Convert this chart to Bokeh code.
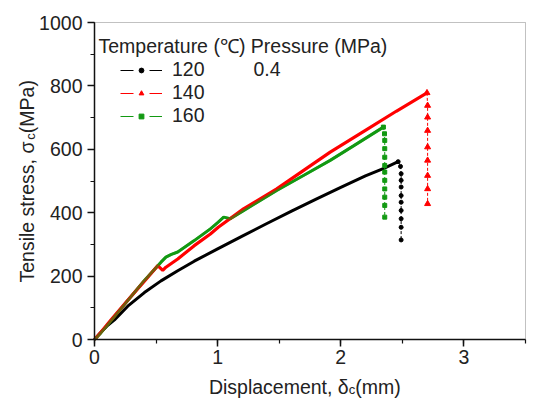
from math import pi
from bokeh.plotting import figure
from bokeh.models import Range1d, SingleIntervalTicker, Label, Legend, LegendItem, BoxAnnotation
from bokeh.embed import file_html
from bokeh.resources import INLINE

# ---------------- data ----------------
temps = ["120", "140", "160"]
pressure_text = "0.4"

disp_120 = [0, 0.05, 0.10, 0.162, 0.27, 0.405, 0.54, 0.676, 0.81, 1.0, 1.2, 1.4, 1.6, 1.8, 2.0, 2.2, 2.35, 2.466]
stress_120 = [0, 22, 42, 62, 105, 148, 185, 217, 247, 286, 326, 366, 405, 443, 480, 516, 540, 561]
drop_disp_120 = [2.466, 2.485, 2.49, 2.49, 2.49, 2.49, 2.49, 2.49, 2.49, 2.49, 2.49]
drop_stress_120 = [561, 546, 523, 502, 481, 454, 433, 407, 381, 354, 314]

disp_140 = [0, 0.05, 0.135, 0.27, 0.405, 0.514, 0.554, 0.58, 0.676, 0.81, 0.941, 1.005, 1.21, 1.48, 1.914, 2.2, 2.45, 2.70]
stress_140 = [0, 22, 62, 124, 184, 233, 218, 228, 254, 296, 333, 354, 412, 475, 591, 660, 720, 778]
drop_disp_140 = [2.70, 2.705, 2.705, 2.705, 2.705, 2.705, 2.705, 2.705, 2.705]
drop_stress_140 = [778, 738, 701, 659, 607, 565, 517, 475, 428]

disp_160 = [0, 0.05, 0.135, 0.27, 0.405, 0.54, 0.58, 0.62, 0.676, 0.81, 0.941, 1.005, 1.049, 1.103, 1.2, 1.48, 1.7, 1.914, 2.1, 2.346]
stress_160 = [0, 20, 60, 123, 186, 244, 260, 268, 276, 312, 349, 370, 386, 381, 404, 470, 518, 565, 610, 670]
drop_disp_160 = [2.346, 2.355, 2.357, 2.357, 2.357, 2.357, 2.357, 2.357, 2.357, 2.357, 2.357, 2.357]
drop_stress_160 = [670, 649, 628, 602, 575, 549, 528, 502, 475, 449, 423, 386]

x_limits = (0, 3.5)
y_limits = (0, 1000)
x_major = 1
y_major = 200

title_text = "Temperature (\u2103) Pressure (MPa)"
xlabel_parts = ("Displacement, \u03b4", "c", " (mm)")
ylabel_parts = ("Tensile stress, \u03c3", "c", " (MPa)")

# ---------------- styling / layout ----------------
FONT = "Liberation Sans"
FS = 19.5
SUB_FS = 13
TXT = "#222222"
BLACK, RED, GREEN = "#000000", "#ff0000", "#129912"
NAN = float("nan")

W, H = 537, 398
# the axes box occupies these canvas pixels
BOX_L, BOX_R, BOX_T, BOX_B = 94, 525, 22, 339
sx_per = (BOX_R - BOX_L) / (x_limits[1] - x_limits[0])
sy_per = (BOX_B - BOX_T) / (y_limits[1] - y_limits[0])
# the frame covers the whole canvas; ranges are widened so the data box lands on BOX_*
xr = Range1d(x_limits[0] - BOX_L / sx_per, x_limits[1] + (W - BOX_R) / sx_per)
yr = Range1d(y_limits[0] - (H - BOX_B) / sy_per, y_limits[1] + BOX_T / sy_per)

ARIAL = {' ': 278, '(': 333, ')': 333, ',': 278, '.': 278, 'D': 722, 'M': 833, 'P': 667,
         'T': 611, 'a': 556, 'c': 500, 'e': 556, 'i': 222, 'l': 222, 'm': 833, 'n': 556,
         'p': 556, 'r': 333, 's': 500, 't': 278, '\u03c3': 600, '\u03b4': 556}

def tw(s, size):
    return sum(ARIAL.get(ch, 556) for ch in s) / 1000.0 * size

p = figure(width=W, height=H, output_backend="svg", toolbar_location=None,
           x_range=xr, y_range=yr, min_border=0)
p.grid.visible = False
p.background_fill_color = "white"
p.border_fill_color = "white"
p.outline_line_color = None

p.xaxis.fixed_location = y_limits[0]
p.yaxis.fixed_location = x_limits[0]
p.xaxis.bounds = x_limits
p.yaxis.bounds = y_limits
p.xaxis.ticker = SingleIntervalTicker(interval=x_major, num_minor_ticks=2)
p.yaxis.ticker = SingleIntervalTicker(interval=y_major, num_minor_ticks=2)
for ax in (p.xaxis, p.yaxis):
    ax.axis_line_color = "#111111"
    ax.axis_line_width = 1.5
    ax.major_tick_line_color = "#111111"
    ax.minor_tick_line_color = "#111111"
    ax.major_tick_line_width = 1.5
    ax.minor_tick_line_width = 1.2
    ax.major_tick_out = 7
    ax.major_tick_in = 0
    ax.minor_tick_out = 4
    ax.minor_tick_in = 0
    ax.major_label_text_font = FONT
    ax.major_label_text_font_size = f"{FS}px"
    ax.major_label_text_color = TXT
p.xaxis.major_label_standoff = 3
p.yaxis.major_label_standoff = 5

# axes box (top and right edges)
p.add_layout(BoxAnnotation(left=x_limits[0], right=x_limits[1], bottom=y_limits[0], top=y_limits[1],
                           fill_alpha=0, line_color="#333333", line_width=1, level="underlay"))

# main curves
p.line(disp_120, stress_120, color=BLACK, line_width=3)
p.line(disp_160, stress_160, color=GREEN, line_width=3)
p.line(disp_140, stress_140, color=RED, line_width=3.2)
p.line(disp_160, stress_160, color=GREEN, line_width=2.5, alpha=0.6)

# failure drops
p.line(drop_disp_120, drop_stress_120, color=BLACK, line_width=1, line_dash="3 2")
p.scatter(drop_disp_120, drop_stress_120, marker="circle", size=4, color=BLACK)
p.line(drop_disp_140, drop_stress_140, color=RED, line_width=1, line_dash="3 2")
p.scatter(drop_disp_140, drop_stress_140, marker="triangle", size=6, color=RED)
p.line(drop_disp_160, drop_stress_160, color=GREEN, line_width=1, line_dash="3 2")
p.scatter(drop_disp_160, drop_stress_160, marker="square", size=4, color=GREEN)

# legend (legend-only renderers hold a single NaN point so nothing shows in the plot)
items = []
for t, col, mk in zip(temps, [BLACK, RED, GREEN], ["circle", "triangle", "square"]):
    lr = p.line([NAN], [NAN], color=col, line_width=1, line_dash="13 16")
    sr = p.scatter([NAN], [NAN], marker=mk, size=5, color=col)
    items.append(LegendItem(label=t, renderers=[lr, sr]))
legend = Legend(items=items, location=(120, 271), margin=0, padding=0, spacing=-3,
                glyph_width=42, glyph_height=12, label_height=20, label_standoff=10,
                label_text_font=FONT, label_text_font_size=f"{FS}px", label_text_color=TXT,
                background_fill_alpha=0, border_line_alpha=0)
p.add_layout(legend)

# texts: screen units from the canvas' bottom-left corner (y upward)
common = dict(x_units="screen", y_units="screen", text_font=FONT, text_color=TXT,
              text_baseline="alphabetic", text_align="left")
p.add_layout(Label(x=98, y=353, text=title_text, text_font_size=f"{FS}px", **common))
p.add_layout(Label(x=253, y=330, text=pressure_text, text_font_size=f"{FS}px", **common))

# x axis label (with subscript)
w1, w2, w3 = tw(xlabel_parts[0], FS), tw(xlabel_parts[1], SUB_FS), tw(xlabel_parts[2], FS)
x0 = 307 - (w1 + w2 + w3) / 2
base = 12
p.add_layout(Label(x=x0, y=base, text=xlabel_parts[0], text_font_size=f"{FS}px", **common))
p.add_layout(Label(x=x0 + w1, y=base - 3, text=xlabel_parts[1], text_font_size=f"{SUB_FS}px", **common))
p.add_layout(Label(x=x0 + w1 + w2, y=base, text=xlabel_parts[2], text_font_size=f"{FS}px", **common))

# y axis label (rotated, with subscript)
w1, w2, w3 = tw(ylabel_parts[0], FS), tw(ylabel_parts[1], SUB_FS), tw(ylabel_parts[2], FS)
y0 = 116
bx = 26
p.add_layout(Label(x=bx, y=y0, text=ylabel_parts[0], angle=pi / 2, text_font_size=f"{FS}px", **common))
p.add_layout(Label(x=bx + 4, y=y0 + w1, text=ylabel_parts[1], angle=pi / 2, text_font_size=f"{SUB_FS}px", **common))
p.add_layout(Label(x=bx, y=y0 + w1 + w2, text=ylabel_parts[2], angle=pi / 2, text_font_size=f"{FS}px", **common))

open("out.html", "w").write(file_html(p, INLINE))
